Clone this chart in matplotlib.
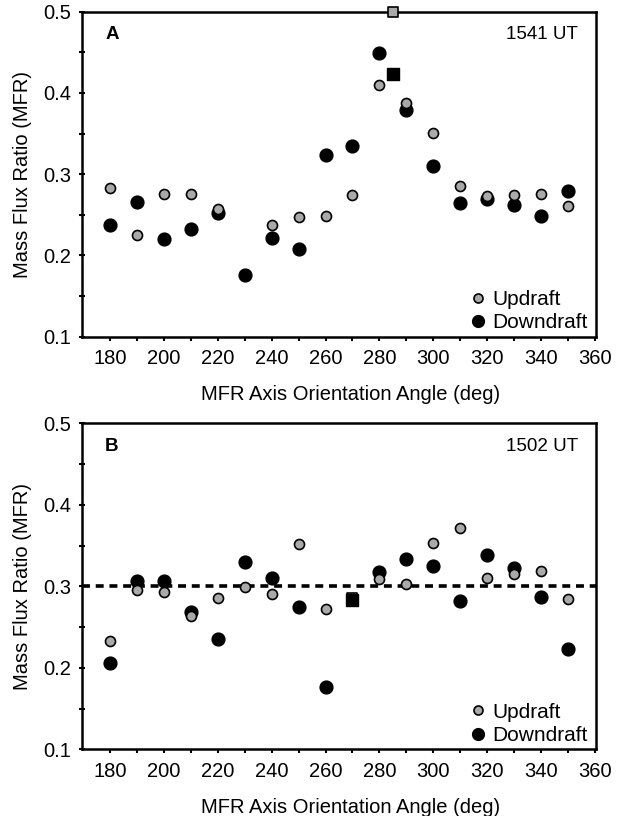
import numpy as np
import matplotlib.pyplot as plt
from matplotlib.lines import Line2D

plt.rcParams['font.family'] = ['Liberation Sans', 'DejaVu Sans']

angles = np.arange(180, 360, 10)

# panel A (1541 UT)
up_a = [0.283, 0.225, 0.276, 0.275, 0.257, np.nan, 0.238, 0.247, 0.249, 0.274,
        0.410, 0.388, 0.351, 0.285, 0.273, 0.274, 0.275, 0.261]
down_a = [0.237, 0.266, 0.220, 0.233, 0.252, 0.176, 0.221, 0.208, 0.324, 0.335,
          0.449, 0.379, 0.310, 0.264, 0.270, 0.262, 0.249, 0.279]
sq_a_angle = 285
sq_a_up = 0.500
sq_a_down = 0.423

# panel B (1502 UT)
up_b = [0.233, 0.295, 0.293, 0.263, 0.286, 0.299, 0.290, 0.352, 0.272, np.nan,
        0.309, 0.303, 0.353, 0.372, 0.310, 0.315, 0.319, 0.285]
down_b = [0.206, 0.306, 0.307, 0.268, 0.235, 0.330, 0.310, 0.274, 0.177, np.nan,
          0.318, 0.334, 0.325, 0.282, 0.338, 0.322, 0.287, 0.223]
sq_b_angle = 270
sq_b_up = 0.286
sq_b_down = 0.283
mean_line_b = 0.3

GRAY = '#a9a9a9'
FS = 14.5


def draw_panel(ax, up, down, sq_angle, sq_up, sq_down, letter, time_label, hline=None):
    if hline is not None:
        ax.axhline(hline, color='black', lw=2.6, ls=(0, (2.2, 1.6)), zorder=1)
    ax.scatter(angles, down, s=85, c='black', marker='o', zorder=2)
    ax.scatter(angles, up, s=52, c=GRAY, edgecolors='black', linewidths=1.2,
               marker='o', zorder=3)
    ax.scatter([sq_angle], [sq_up], s=55, c=GRAY, edgecolors='black', linewidths=1.2,
               marker='s', zorder=4, clip_on=False)
    ax.scatter([sq_angle], [sq_down], s=80, c='black', marker='s', zorder=5)

    ax.set_xlim(169.5, 360.5)
    ax.set_ylim(0.1, 0.5)
    ax.set_xticks(np.arange(180, 361, 20))
    ax.set_xticks(np.arange(180, 360, 10), minor=True)
    ax.set_yticks(np.arange(0.1, 0.51, 0.1))
    ax.set_yticks(np.arange(0.15, 0.5, 0.1), minor=True)
    ax.set_yticklabels(['0.1', '0.2', '0.3', '0.4', '0.5'])
    ax.tick_params(axis='both', which='both', labelsize=FS, width=1.5)
    ax.tick_params(axis='x', which='both', direction='out', length=3, pad=6)
    ax.tick_params(axis='y', which='both', direction='inout', length=5, pad=5)
    ax.tick_params(top=False, right=False)
    for sp in ax.spines.values():
        sp.set_linewidth(1.8)

    ax.set_xlabel('MFR Axis Orientation Angle (deg)', fontsize=FS)
    ax.xaxis.set_label_coords(0.523, -0.148)
    ax.set_ylabel('Mass Flux Ratio (MFR)', fontsize=FS, labelpad=8)

    ax.text(0.045, 0.93, letter, transform=ax.transAxes, fontsize=13.5,
            fontweight='bold', va='center', ha='left')
    ax.text(0.965, 0.93, time_label, transform=ax.transAxes, fontsize=13.5,
            va='center', ha='right')

    handles = [
        Line2D([], [], ls='none', marker='o', ms=6.5, mfc=GRAY, mec='black', mew=1.2),
        Line2D([], [], ls='none', marker='o', ms=8.5, mfc='black', mec='black'),
    ]
    ax.legend(handles, ['Updraft', 'Downdraft'], loc='lower right', frameon=False,
              fontsize=15, handletextpad=0.1, borderaxespad=0.0, labelspacing=0.2,
              handlelength=1.2, bbox_to_anchor=(1.0, -0.012))


fig = plt.figure(figsize=(6.27, 8.16), dpi=100)
ax_a = fig.add_axes([0.1308, 0.5874, 0.8198, 0.3983])
ax_b = fig.add_axes([0.1308, 0.0817, 0.8198, 0.3996])

draw_panel(ax_a, up_a, down_a, sq_a_angle, sq_a_up, sq_a_down, 'A', '1541 UT')
draw_panel(ax_b, up_b, down_b, sq_b_angle, sq_b_up, sq_b_down, 'B', '1502 UT',
           hline=mean_line_b)

fig.savefig('out.png', dpi=100)
